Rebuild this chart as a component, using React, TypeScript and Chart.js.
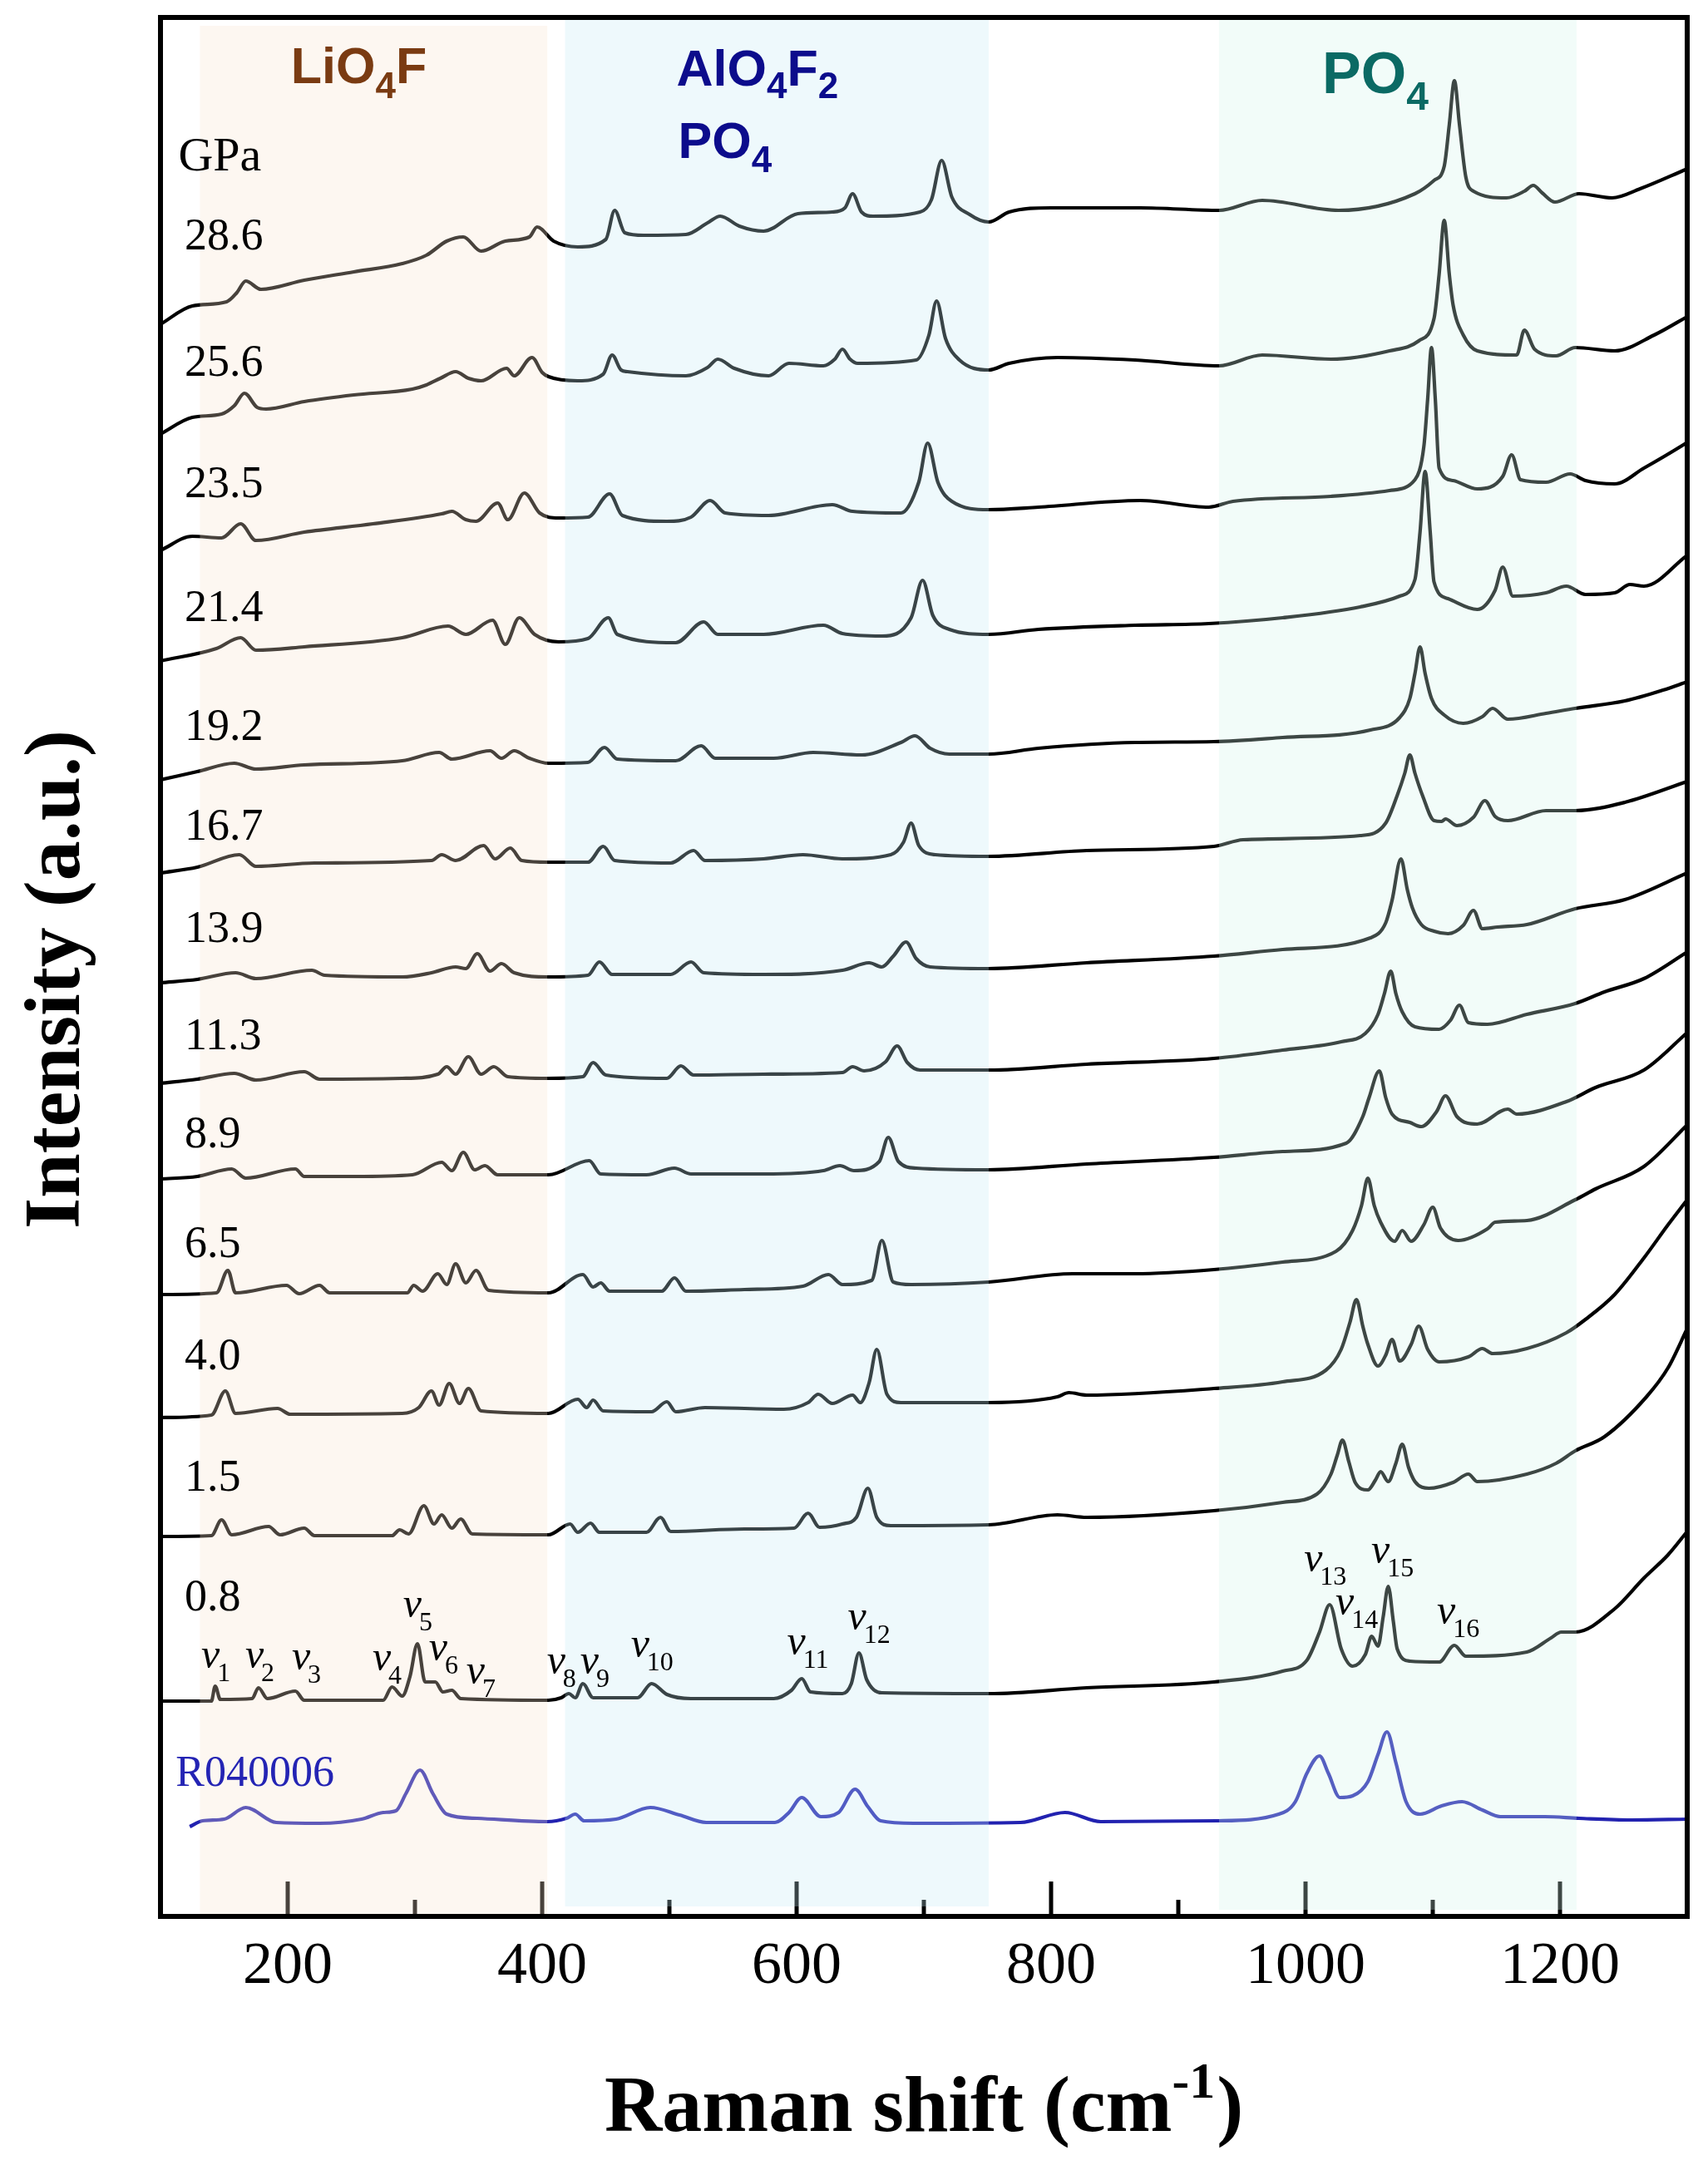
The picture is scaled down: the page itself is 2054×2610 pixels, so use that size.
import React, { useEffect, useRef } from "react";
import { Chart, registerables } from "chart.js";

Chart.register(...registerables);

// ---------- axis ----------
const xMajorTicks = [200, 400, 600, 800, 1000, 1200];
const xMinorTicks = [300, 500, 700, 900, 1100];
const xMin = 100;
const xMax = 1300;
const yMin = 0;
const yMax = 2284;

// ---------- spectra: [Raman shift (cm-1), stacked intensity (a.u.)] ----------
const s28_6 = [[100,1915],[125,1937],[152,1942],[160,1953],[167,1967],[179,1957],[213,1968],[252,1978],[290,1988],[309,1998],[325,2015],[338,2020],[352,2003],[371,2015],[390,2020],[396,2032],[409,2015],[428,2008],[450,2017],[457,2052],[465,2025],[480,2022],[513,2023],[530,2037],[540,2045],[555,2033],[574,2027],[601,2048],[628,2050],[638,2055],[644,2072],[651,2050],[660,2045],[697,2050],[706,2065],[714,2112],[722,2068],[736,2047],[751,2038],[767,2050],[800,2055],[870,2055],[932,2052],[966,2064],[1026,2052],[1086,2072],[1101,2088],[1109,2105],[1113,2155],[1117,2208],[1121,2155],[1126,2092],[1132,2075],[1158,2067],[1172,2075],[1179,2082],[1186,2073],[1196,2062],[1215,2072],[1241,2067],[1263,2078],[1297,2100],[1300,2102]];
const s25_6 = [[100,1783],[125,1803],[148,1807],[158,1817],[166,1832],[176,1815],[183,1813],[213,1822],[252,1830],[298,1837],[309,1842],[320,1850],[332,1858],[342,1850],[352,1847],[372,1862],[378,1853],[392,1875],[400,1857],[405,1852],[428,1847],[448,1855],[455,1878],[462,1860],[467,1858],[513,1853],[530,1863],[538,1873],[551,1862],[578,1853],[594,1868],[621,1865],[630,1873],[636,1885],[642,1873],[648,1868],[694,1872],[704,1902],[710,1943],[717,1898],[728,1872],[751,1860],[767,1868],[805,1875],[866,1872],[932,1865],[966,1878],[1020,1873],[1066,1883],[1089,1895],[1101,1922],[1105,1975],[1109,2040],[1113,1975],[1116,1938],[1124,1902],[1135,1883],[1166,1878],[1172,1908],[1180,1885],[1197,1877],[1212,1887],[1243,1883],[1274,1902],[1301,1925]];
const s23_5 = [[100,1643],[125,1660],[148,1658],[163,1675],[175,1655],[213,1665],[267,1675],[321,1687],[329,1690],[340,1680],[348,1678],[365,1700],[373,1680],[386,1712],[398,1688],[413,1682],[436,1683],[453,1711],[463,1685],[498,1678],[517,1683],[532,1703],[544,1688],[578,1685],[628,1698],[644,1690],[682,1688],[696,1725],[703,1772],[711,1725],[722,1702],[751,1692],[790,1695],[870,1703],[924,1695],[943,1702],[1020,1708],[1066,1715],[1086,1728],[1093,1768],[1096,1825],[1099,1887],[1102,1825],[1105,1742],[1116,1727],[1135,1717],[1155,1732],[1162,1758],[1169,1728],[1189,1725],[1208,1735],[1220,1727],[1243,1723],[1266,1742],[1297,1770],[1300,1773]];
const s21_4 = [[100,1510],[144,1525],[163,1538],[175,1523],[213,1527],[290,1538],[326,1552],[340,1542],[361,1559],[371,1530],[382,1562],[394,1542],[413,1533],[436,1537],[452,1562],[459,1542],[505,1532],[527,1557],[538,1542],[574,1542],[621,1553],[636,1543],[667,1540],[690,1562],[699,1607],[707,1565],[720,1548],[751,1542],[790,1548],[866,1553],[924,1555],[982,1562],[1043,1575],[1074,1588],[1086,1608],[1090,1665],[1094,1738],[1098,1665],[1101,1605],[1112,1585],[1135,1572],[1149,1595],[1155,1623],[1163,1588],[1189,1592],[1205,1600],[1220,1590],[1243,1592],[1255,1602],[1266,1600],[1300,1637]];
const s19_2 = [[100,1367],[129,1377],[158,1387],[175,1380],[213,1385],[290,1390],[319,1400],[329,1392],[359,1402],[368,1393],[378,1402],[390,1393],[405,1387],[436,1388],[449,1406],[459,1392],[505,1390],[525,1408],[536,1393],[582,1393],[613,1400],[651,1397],[682,1412],[693,1420],[705,1405],[720,1398],[751,1398],[790,1405],[866,1412],[928,1413],[982,1418],[1051,1427],[1074,1442],[1082,1465],[1086,1495],[1090,1527],[1094,1495],[1099,1465],[1109,1445],[1124,1435],[1139,1443],[1147,1453],[1159,1440],[1189,1447],[1212,1453],[1251,1462],[1281,1475],[1300,1485]];
const s16_7 = [[100,1255],[129,1262],[162,1277],[175,1263],[221,1267],[313,1270],[321,1277],[332,1270],[354,1288],[363,1272],[375,1285],[384,1270],[405,1268],[436,1268],[448,1287],[457,1270],[501,1267],[519,1282],[528,1270],[574,1272],[605,1277],[636,1272],[674,1277],[684,1292],[690,1315],[696,1288],[709,1277],[751,1275],[828,1282],[928,1287],[951,1295],[1043,1300],[1063,1315],[1072,1348],[1078,1375],[1082,1397],[1086,1375],[1092,1348],[1101,1318],[1107,1317],[1110,1320],[1119,1312],[1132,1322],[1141,1342],[1149,1323],[1159,1318],[1189,1330],[1212,1330],[1251,1340],[1300,1365]];
const s13_9 = [[100,1123],[129,1127],[159,1135],[175,1128],[219,1138],[229,1132],[290,1130],[313,1135],[332,1142],[340,1140],[349,1158],[359,1137],[368,1146],[378,1135],[405,1130],[436,1132],[445,1148],[455,1133],[501,1133],[517,1148],[527,1135],[574,1133],[636,1138],[657,1147],[667,1142],[676,1155],[686,1172],[694,1152],[705,1142],[751,1140],[828,1147],[928,1155],[982,1163],[1051,1177],[1063,1195],[1068,1222],[1075,1272],[1080,1235],[1084,1213],[1091,1193],[1101,1185],[1112,1182],[1124,1192],[1132,1210],[1139,1188],[1151,1190],[1174,1193],[1212,1212],[1251,1223],[1300,1255]];
const s11_3 = [[100,1002],[129,1007],[158,1014],[175,1006],[213,1016],[225,1007],[290,1008],[318,1013],[325,1022],[332,1013],[342,1034],[352,1013],[362,1022],[373,1010],[405,1008],[432,1010],[440,1027],[450,1012],[498,1008],[509,1023],[519,1012],[574,1013],[636,1015],[644,1022],[653,1017],[670,1028],[679,1047],[687,1027],[697,1018],[751,1018],[828,1025],[928,1032],[982,1042],[1028,1052],[1047,1062],[1057,1085],[1062,1110],[1067,1137],[1071,1110],[1076,1088],[1086,1070],[1105,1067],[1114,1078],[1121,1096],[1128,1075],[1143,1073],[1174,1085],[1212,1098],[1235,1112],[1266,1128],[1300,1160]];
const s8_9 = [[100,887],[129,890],[156,899],[167,888],[206,899],[213,890],[252,890],[298,892],[321,907],[329,897],[338,919],[347,898],[355,903],[365,892],[405,892],[437,909],[446,893],[482,892],[504,900],[517,893],[574,893],[621,897],[634,903],[645,897],[665,908],[672,937],[680,908],[694,900],[751,898],[828,905],[928,913],[982,920],[1032,930],[1045,962],[1050,985],[1058,1017],[1063,985],[1068,965],[1082,955],[1091,950],[1103,968],[1110,987],[1119,962],[1135,953],[1159,971],[1166,965],[1205,980],[1228,997],[1266,1018],[1300,1063]];
const s6_5 = [[100,748],[144,750],[153,777],[159,750],[199,759],[209,749],[225,759],[233,750],[294,750],[299,759],[306,752],[318,773],[325,760],[332,785],[340,762],[348,777],[358,753],[405,750],[432,772],[440,757],[446,762],[453,752],[494,752],[504,768],[513,752],[559,754],[605,758],[625,772],[636,760],[659,765],[667,813],[676,763],[690,760],[751,763],[817,773],[866,773],[928,778],[982,787],[1024,800],[1037,825],[1044,855],[1049,888],[1054,855],[1059,835],[1070,812],[1076,825],[1083,812],[1093,832],[1100,853],[1106,828],[1120,813],[1143,827],[1149,835],[1174,837],[1212,862],[1228,875],[1266,902],[1300,952]];
const s4_0 = [[100,600],[140,603],[151,632],[159,605],[192,611],[202,604],[290,605],[303,612],[313,632],[319,615],[327,641],[335,617],[342,635],[352,608],[405,605],[428,622],[435,612],[440,621],[448,608],[486,607],[498,619],[505,607],[528,612],[590,610],[609,618],[617,628],[628,617],[644,627],[650,618],[657,642],[663,682],[671,628],[682,618],[751,618],[805,625],[814,630],[828,627],[928,635],[982,643],[1016,657],[1028,682],[1035,715],[1040,742],[1045,710],[1049,688],[1057,662],[1063,675],[1068,694],[1074,668],[1083,688],[1089,710],[1096,682],[1105,667],[1128,673],[1139,683],[1147,677],[1174,683],[1205,702],[1220,718],[1243,748],[1266,792],[1285,832],[1300,862]];
const s1_5 = [[100,457],[140,458],[148,477],[156,459],[185,469],[194,459],[213,467],[221,458],[282,458],[288,465],[295,460],[307,494],[315,472],[321,483],[329,467],[336,478],[345,460],[405,459],[422,472],[428,462],[438,473],[445,462],[482,462],[493,480],[501,463],[559,466],[598,467],[609,485],[618,468],[636,472],[647,480],[656,515],[663,480],[674,470],[751,471],[805,483],[828,480],[928,488],[982,498],[1009,508],[1020,532],[1025,555],[1029,573],[1034,547],[1039,522],[1049,513],[1055,525],[1059,535],[1065,523],[1071,545],[1076,568],[1081,540],[1086,523],[1097,515],[1116,522],[1128,532],[1135,523],[1174,532],[1197,545],[1212,560],[1235,577],[1268,625],[1285,660],[1300,707]];
const s0_8 = [[100,259],[140,259],[143,277],[147,261],[172,262],[177,275],[184,262],[206,271],[213,260],[275,260],[282,276],[290,265],[296,288],[302,328],[308,282],[316,282],[322,270],[329,272],[336,262],[405,260],[415,263],[421,268],[426,263],[432,280],[440,263],[475,263],[486,280],[498,267],[517,262],[582,262],[596,272],[604,286],[611,270],[636,268],[643,280],[649,317],[655,285],[667,269],[751,268],[828,275],[928,282],[982,295],[1001,308],[1011,342],[1019,375],[1028,322],[1037,301],[1047,315],[1052,337],[1057,325],[1061,360],[1065,397],[1069,355],[1072,322],[1082,307],[1105,306],[1117,326],[1126,313],[1174,318],[1193,335],[1201,342],[1212,342],[1243,370],[1266,407],[1285,435],[1300,463]];
const r040006 = [[123,108],[133,115],[150,117],[167,131],[191,113],[225,112],[258,117],[275,125],[285,127],[293,148],[304,176],[314,148],[325,123],[349,118],[404,114],[419,118],[426,123],[433,115],[458,117],[485,131],[508,122],[529,113],[583,113],[594,125],[604,143],[619,120],[633,125],[646,153],[656,132],[666,115],[692,112],[776,113],[811,125],[839,114],[931,115],[979,123],[992,138],[1001,172],[1011,193],[1018,172],[1027,143],[1037,145],[1049,162],[1057,195],[1064,222],[1071,185],[1079,138],[1090,123],[1107,133],[1123,138],[1139,128],[1153,120],[1188,120],[1215,118],[1256,116],[1300,117]];

const pressureSpectra = [s28_6, s25_6, s23_5, s21_4, s19_2, s16_7, s13_9, s11_3, s8_9, s6_5, s4_0, s1_5, s0_8];

// ---------- labels ----------
const pressureLabels = ["28.6", "25.6", "23.5", "21.4", "19.2", "16.7", "13.9", "11.3", "8.9", "6.5", "4.0", "1.5", "0.8"];
const pressureLabelShift = 119;
const pressureLabelLevel = [2005, 1853, 1707, 1558, 1415, 1295, 1172, 1043, 925, 793, 658, 512, 368];
const unitLabel = "GPa";
const unitLabelAt = [114, 2100];
const referenceLabel = "R040006";
const referenceLabelAt = [112, 157];

const modeNumbers = ["1", "2", "3", "4", "5", "6", "7", "8", "9", "10", "11", "12", "13", "14", "15", "16"];
const modeShift = [132, 166.6, 203.2, 266.6, 290.7, 311, 340.4, 403.7, 429.9, 469.7, 592.5, 640.2, 998.8, 1023.6, 1051.7, 1103.3];
const modeLevel = [299, 299, 297, 296, 360, 308, 280, 292, 292, 312, 315, 345, 415, 363, 425, 352];

const bandFrom = [131, 418, 932];
const bandTo = [404, 751, 1213];

function drawParts(ctx: CanvasRenderingContext2D, x: number, y: number, parts: any[]) {
  let cx = x;
  for (const p of parts) {
    ctx.font = p.font;
    ctx.fillStyle = p.color;
    ctx.fillText(p.t, cx, y + (p.dy || 0));
    cx += ctx.measureText(p.t).width + (p.kern || 0);
  }
  return cx - x;
}

function measureParts(ctx: CanvasRenderingContext2D, parts: any[]) {
  let w = 0;
  for (const p of parts) {
    ctx.font = p.font;
    w += ctx.measureText(p.t).width + (p.kern || 0);
  }
  return w;
}

const SERIF = '"Liberation Serif", "Times New Roman", serif';
const SANS = '"Liberation Sans", Arial, sans-serif';

const decor = {
  id: "decor",
  afterDatasetsDraw(chart: any) {
    const { ctx, chartArea: a, scales } = chart;
    const x = scales.x;
    ctx.save();
    // tick marks (inside)
    ctx.strokeStyle = "#000";
    ctx.lineWidth = 5;
    ctx.lineCap = "butt";
    for (const v of xMajorTicks) {
      const px = x.getPixelForValue(v);
      ctx.beginPath();
      ctx.moveTo(px, a.bottom);
      ctx.lineTo(px, a.bottom - 42);
      ctx.stroke();
    }
    for (const v of xMinorTicks) {
      const px = x.getPixelForValue(v);
      ctx.beginPath();
      ctx.moveTo(px, a.bottom);
      ctx.lineTo(px, a.bottom - 20);
      ctx.stroke();
    }
    // translucent region shading
    const fills = ["rgba(248,228,208,0.29)", "rgba(195,234,246,0.29)", "rgba(210,243,236,0.29)"];
    const tops = [10, 3, 3];
    const bots = [0, 12, 8];
    bandFrom.forEach((f, i) => {
      const x0 = x.getPixelForValue(f);
      const x1 = x.getPixelForValue(bandTo[i]);
      ctx.fillStyle = fills[i];
      ctx.fillRect(x0, a.top + tops[i], x1 - x0, a.bottom - bots[i] - a.top - tops[i]);
    });
    // frame
    ctx.strokeStyle = "#000";
    ctx.lineWidth = 6;
    ctx.strokeRect(a.left, a.top, a.right - a.left, a.bottom - a.top);
    ctx.restore();
  },
  afterDraw(chart: any) {
    const { ctx, chartArea: a, scales } = chart;
    const x = scales.x;
    const y = scales.y;
    ctx.save();
    ctx.textAlign = "left";
    ctx.textBaseline = "alphabetic";

    // pressure labels
    ctx.font = `54px ${SERIF}`;
    ctx.fillStyle = "#000";
    const lx = x.getPixelForValue(pressureLabelShift);
    pressureLabels.forEach((t, i) => {
      ctx.fillText(t, lx, y.getPixelForValue(pressureLabelLevel[i]));
    });
    ctx.font = `58px ${SERIF}`;
    ctx.fillText(unitLabel, x.getPixelForValue(unitLabelAt[0]), y.getPixelForValue(unitLabelAt[1]));

    // reference label
    ctx.font = `52px ${SERIF}`;
    ctx.fillStyle = "#2424B4";
    ctx.fillText(referenceLabel, x.getPixelForValue(referenceLabelAt[0]), y.getPixelForValue(referenceLabelAt[1]));

    // mode labels
    modeNumbers.forEach((n, i) => {
      const px = x.getPixelForValue(modeShift[i]);
      const py = y.getPixelForValue(modeLevel[i]);
      ctx.fillStyle = "#000";
      ctx.font = `italic 50px ${SERIF}`;
      ctx.fillText("\u03BD", px, py);
      const w = ctx.measureText("\u03BD").width;
      ctx.font = `32px ${SERIF}`;
      ctx.fillText(n, px + w - 3, py + 16);
    });

    // region labels
    const brown = "#7A3B12";
    const navy = "#0C0C8C";
    const teal = "#0B6A64";
    const big = `bold 61px ${SANS}`;
    const sub = `bold 44px ${SANS}`;
    drawParts(ctx, x.getPixelForValue(202.5), y.getPixelForValue(2205), [
      { t: "LiO", font: big, color: brown },
      { t: "4", font: sub, color: brown, dy: 18 },
      { t: "F", font: big, color: brown },
    ]);
    drawParts(ctx, x.getPixelForValue(505.6), y.getPixelForValue(2202), [
      { t: "AlO", font: big, color: navy },
      { t: "4", font: sub, color: navy, dy: 15 },
      { t: "F", font: big, color: navy },
      { t: "2", font: sub, color: navy, dy: 15 },
    ]);
    drawParts(ctx, x.getPixelForValue(506.9), y.getPixelForValue(2115), [
      { t: "PO", font: big, color: navy },
      { t: "4", font: sub, color: navy, dy: 17 },
    ]);
    drawParts(ctx, x.getPixelForValue(1013.1), y.getPixelForValue(2193), [
      { t: "PO", font: `bold 70px ${SANS}`, color: teal },
      { t: "4", font: `bold 48px ${SANS}`, color: teal, dy: 20 },
    ]);

    // x axis title
    const xt = [
      { t: "Raman shift (cm", font: `bold 96px ${SERIF}`, color: "#000" },
      { t: "-1", font: `bold 62px ${SERIF}`, color: "#000", dy: -40, kern: 2 },
      { t: ")", font: `bold 96px ${SERIF}`, color: "#000" },
    ];
    const xw = measureParts(ctx, xt);
    drawParts(ctx, (a.left + a.right) / 2 - xw / 2, 2563, xt);

    // y axis title
    ctx.save();
    ctx.translate(95, 1178);
    ctx.rotate(-Math.PI / 2);
    ctx.font = `bold 96px ${SERIF}`;
    ctx.fillStyle = "#000";
    ctx.textAlign = "center";
    ctx.fillText("Intensity (a.u.)", 0, 0);
    ctx.restore();

    ctx.restore();
  },
};

export default function App() {
  const ref = useRef<HTMLCanvasElement | null>(null);

  useEffect(() => {
    document.body.style.margin = "0";
    document.body.style.overflow = "hidden";
    const datasets: any[] = pressureSpectra.map((s, i) => ({
      label: pressureLabels[i] + " GPa",
      data: s.map(([wx, wy]) => ({ x: wx, y: wy })),
      borderColor: "#000",
      borderWidth: 4.2,
      pointRadius: 0,
      fill: false,
      cubicInterpolationMode: "monotone",
      borderJoinStyle: "round",
    }));
    datasets.push({
      label: referenceLabel,
      data: r040006.map(([wx, wy]) => ({ x: wx, y: wy })),
      borderColor: "#2222B0",
      borderWidth: 4.2,
      pointRadius: 0,
      fill: false,
      cubicInterpolationMode: "monotone",
      borderJoinStyle: "round",
    });

    const chart = new Chart(ref.current as HTMLCanvasElement, {
      type: "line",
      data: { datasets },
      options: {
        animation: false,
        responsive: false,
        maintainAspectRatio: false,
        devicePixelRatio: 1,
        events: [],
        layout: { padding: { left: 193, right: 25, top: 21, bottom: 0 } },
        plugins: { legend: { display: false }, tooltip: { enabled: false } },
        scales: {
          x: {
            type: "linear",
            min: xMin,
            max: xMax,
            grid: { display: false, drawTicks: false },
            border: { display: false },
            ticks: {
              color: "#000",
              font: { family: SERIF, size: 72 },
              padding: 18,
              maxRotation: 0,
              autoSkip: false,
              callback: (v: any) => String(v),
            },
            afterBuildTicks: (s: any) => {
              s.ticks = xMajorTicks.map((v) => ({ value: v }));
            },
            afterFit: (s: any) => {
              s.height = 305;
            },
          },
          y: { type: "linear", display: false, min: yMin, max: yMax },
        },
      } as any,
      plugins: [decor],
    });
    return () => chart.destroy();
  }, []);

  return (
    <div style={{ position: "fixed", left: 0, top: 0, width: 2054, height: 2610, background: "#fff" }}>
      <canvas ref={ref} width={2054} height={2610} style={{ display: "block", width: 2054, height: 2610 }} />
    </div>
  );
}
